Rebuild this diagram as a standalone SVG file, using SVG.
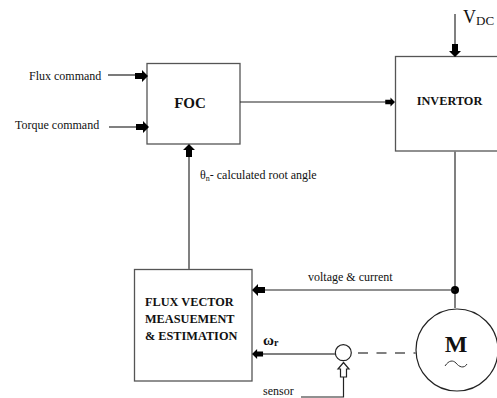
<svg xmlns="http://www.w3.org/2000/svg" width="497" height="398" viewBox="0 0 497 398">
<defs>
<style>
text{font-family:"Liberation Serif","Times New Roman",serif;fill:#111}
.lbl{font-size:12px}
.b{font-weight:bold;font-size:12.3px}
.box{fill:#fff;stroke:#555;stroke-width:1.3}
.dk{fill:none;stroke:#222;stroke-width:1.2}
.gr{fill:none;stroke:#808080;stroke-width:2}
</style>
<path id="ah" d="M-13,-3 L-6,-3 L-6,-6 L0,0 L-6,6 L-6,3 L-13,3 Z" fill="#000"/>
</defs>
<rect width="497" height="398" fill="#fff"/>
<g id="flux-command"><text class="lbl" x="29" y="80">Flux command</text></g>
<g id="torque-command"><text class="lbl" x="15" y="129">Torque command</text></g>
<g id="foc">
<rect class="box" x="147" y="63.500" width="93" height="80.500"/>
<text class="b" x="190" y="108" text-anchor="middle" style="font-size:15px">FOC</text>
</g>
<g id="invertor">
<rect class="box" x="395.500" y="56.500" width="110" height="94.500"/>
<text class="b" x="449.500" y="105" text-anchor="middle">INVERTOR</text>
</g>
<g id="vdc"><text x="463" y="23" font-size="18">V<tspan font-size="13" dy="2">DC</tspan></text></g>
<g id="root-angle"><text class="lbl" x="200" y="179">θ<tspan font-size="8" dy="2">n</tspan><tspan dy="-2">- calculated root angle</tspan></text></g>
<g id="flux-vector">
<rect class="box" x="134.500" y="269.500" width="117.500" height="111.500"/>
<text class="b" x="145" y="306">FLUX VECTOR</text>
<text class="b" x="145" y="323">MEASUEMENT</text>
<text class="b" x="145" y="340">&amp; ESTIMATION</text>
</g>
<g id="voltage-current"><text class="lbl" x="308" y="281">voltage &amp; current</text></g>
<g id="omega"><text class="b" x="263" y="345" style="font-size:15px">ω<tspan font-size="10" dy="1">r</tspan></text></g>
<g id="sensor-circle"><circle cx="343.300" cy="352.700" r="8" fill="#fff" stroke="#222" stroke-width="1.2"/></g>
<g id="motor">
<circle cx="457" cy="350" r="41" fill="#fff" stroke="#222" stroke-width="1.2"/>
<text x="456" y="352" font-size="24" font-weight="bold" text-anchor="middle">M</text>
<path d="M445,366 C449,360 453,360 456,363 C459,367 464,369 467,364" fill="none" stroke="#333"/>
</g>
<g id="sensor"><text class="lbl" x="263" y="395">sensor</text></g>
<g id="connectors">
<path class="dk" d="M108,75 H136"/>
<use href="#ah" transform="translate(148,76)"/>
<path class="gr" d="M109,127 H136"/>
<use href="#ah" transform="translate(149,127)"/>
<path class="gr" d="M189,269 V155"/>
<use href="#ah" transform="translate(189,144) rotate(-90)"/>
<path class="dk" d="M240,102 H386"/>
<use href="#ah" transform="translate(395,102) scale(.75)"/>
<path class="gr" d="M455,14 V45"/>
<use href="#ah" transform="translate(455,57) rotate(90)"/>
<path class="gr" d="M455,151 V308"/>
<circle cx="455" cy="290" r="4" fill="#000"/>
<path class="dk" d="M455,290 H262"/>
<use href="#ah" transform="translate(252,290) rotate(180)"/>
<path class="gr" d="M335,354 H262"/>
<use href="#ah" transform="translate(252,354) rotate(180) scale(.85)"/>
<path d="M358,353 H416" fill="none" stroke="#808080" stroke-width="2" stroke-dasharray="10 8.500"/>
<path class="dk" d="M301,397 H343.500 V376"/>
<path d="M343.500,362.500 L349,369 L346.500,369 L346.500,377 L340.500,377 L340.500,369 L338,369 Z" fill="#fff" stroke="#222" stroke-width="1.2"/>
</g>
</svg>
